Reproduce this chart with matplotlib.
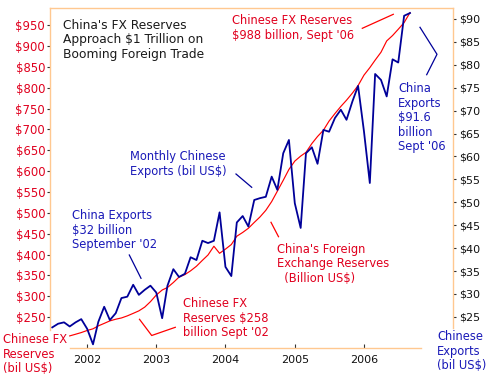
import matplotlib
matplotlib.use("Agg")
import matplotlib.pyplot as plt
import matplotlib.dates as mdates
import pandas as pd

# monthly Chinese exports, bil US$ (Jul 2001 - Sep 2006)
export_months = pd.date_range("2001-07-01", "2006-09-01", freq="MS")
exports = [
    22.7, 23.5, 23.8, 22.9, 23.8, 24.5,
    22.4, 19.0, 23.9, 27.2, 24.3, 25.8, 29.1, 29.4, 32.0, 29.8, 30.9, 31.8,
    30.3, 24.7, 31.8, 35.4, 33.7, 34.4, 38.0, 37.4, 41.6, 41.1, 41.6, 47.8,
    35.9, 33.9, 45.6, 47.0, 44.7, 50.5, 50.9, 51.2, 55.6, 52.7, 60.7, 63.6,
    49.8, 44.4, 60.7, 62.0, 58.4, 65.8, 65.4, 68.4, 70.2, 68.0, 72.0, 75.4,
    65.5, 54.2, 78.0, 76.7, 73.1, 81.2, 80.5, 90.7, 91.3,
]

# China's foreign exchange reserves, bil US$ (Oct 2001 - Sep 2006)
reserve_months = pd.date_range("2001-10-01", "2006-09-01", freq="MS")
reserves = [
    205, 209, 213,
    218, 222, 229, 235, 241, 245, 248, 253, 259, 265, 274, 287,
    303, 315, 321, 333, 346, 352, 361, 372, 386, 399, 420, 403,
    413, 424, 444, 453, 463, 477, 490, 506, 527, 552, 578, 604,
    624, 636, 645, 666, 683, 698, 720, 738, 755, 770, 787, 805,
    830, 848, 866, 885, 912, 925, 940, 956, 980,
]

years = [2002, 2003, 2004, 2005, 2006]
left_ticks = list(range(250, 951, 50))
right_ticks = list(range(25, 91, 5))

W, H = 492, 379
RED = "#FF0000"
RED_TXT = "#E0001E"
NAVY = "#000099"
BLUE_TXT = "#1A1AB8"
SPINE = "#FFC890"

plt.rcParams["font.family"] = "DejaVu Sans"

fig = plt.figure(figsize=(W / 100, H / 100), dpi=100)
ax = fig.add_axes([50 / W, 1 - 348 / H, 403 / W, 340 / H])
ax2 = ax.twinx()

ax.plot(reserve_months, reserves, color=RED, lw=0.85)
ax2.plot(export_months, exports, color=NAVY, lw=1.3)

ax.set_xlim(pd.Timestamp("2001-06-19"), pd.Timestamp("2007-04-16"))
ax.set_ylim(176, 991)
ax2.set_ylim(18.2, 92.4)

ax.set_xticks([pd.Timestamp(year=y, month=1, day=1) for y in years])
ax.set_xticklabels([str(y) for y in years])
ax.set_yticks(left_ticks)
ax.set_yticklabels(["$%d" % v for v in left_ticks])
ax2.set_yticks(right_ticks)
ax2.set_yticklabels(["$%d" % v for v in right_ticks])

ax.tick_params(axis="x", direction="in", length=3, width=0.8, color="#333333",
               labelsize=8, labelcolor="#111111", pad=5)
ax.tick_params(axis="y", direction="out", length=2.5, width=0.8, color="#333333",
               labelsize=8.4, labelcolor=RED_TXT, pad=1)
ax2.tick_params(axis="y", direction="out", length=2.5, width=0.8, color="#333333",
                labelsize=8, labelcolor="#111111", pad=2)

for a in (ax, ax2):
    for s in a.spines.values():
        s.set_color(SPINE)
        s.set_linewidth(1)
ax.spines["top"].set_visible(False)
ax.spines["right"].set_visible(False)
ax2.spines["left"].set_visible(False)
ax2.spines["bottom"].set_visible(False)
ax.spines["left"].set_bounds(219, 991)
ax.spines["bottom"].set_bounds(mdates.date2num(pd.Timestamp("2001-10-02")),
                               mdates.date2num(pd.Timestamp("2006-10-28")))
ax2.spines["right"].set_bounds(22.6, 92.4)


def px(x, y):
    return x / W, 1 - y / H


def label(x, y, s, color, size=8.3, **kw):
    fig.text(*px(x, y), s, color=color, fontsize=size, va="top", ha="left",
             linespacing=1.15, **kw)


def leader(xs, ys, color):
    fig.add_artist(plt.Line2D([x / W for x in xs], [1 - y / H for y in ys],
                              color=color, lw=0.9, transform=fig.transFigure))


label(63, 19, "China's FX Reserves\nApproach $1 Trillion on\nBooming Foreign Trade",
      "#1A1A1A", size=8.8)
label(232, 14, "Chinese FX Reserves\n$988 billion, Sept '06", RED_TXT)
leader([362.3, 393.3], [28.3, 14.3], RED)

label(130, 150, "Monthly Chinese\nExports (bil US$)", BLUE_TXT)
leader([236, 251.7], [174, 187.3], NAVY)

label(72, 209, "China Exports\n$32 billion\nSeptember '02", BLUE_TXT)
leader([129.3, 141], [255, 278.3], NAVY)

label(183, 297, "Chinese FX\nReserves $258\nbillion Sept '02", RED_TXT)
leader([139.5, 151.7, 175.3], [319.3, 335.5, 327.3], RED)

label(277, 243, "China's Foreign\nExchange Reserves\n  (Billion US$)", RED_TXT)
leader([271, 278.5], [222.3, 236.7], RED)

label(398, 82, "China\nExports\n$91.6\nbillion\nSept '06", BLUE_TXT)
leader([420, 437, 426.7], [27.3, 54.3, 74.7], NAVY)

label(3, 333, "Chinese FX\nReserves\n(bil US$)", RED_TXT)
label(437, 330, "Chinese\nExports\n(bil US$)", BLUE_TXT)

fig.savefig("out.png", dpi=100, facecolor="white")
